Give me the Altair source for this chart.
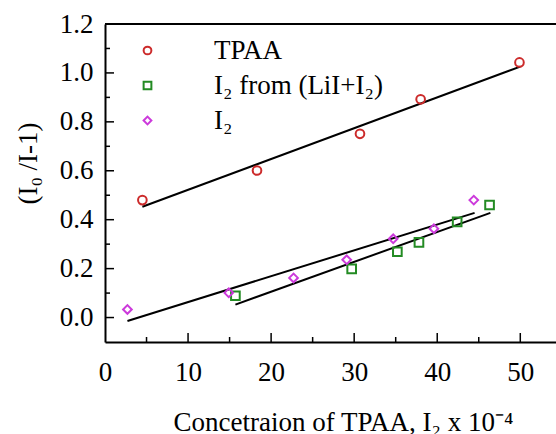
import altair as alt
import pandas as pd

# ---- data ----
series_names = ["TPAA", "I\u2082  from (LiI+I\u2082)", "I\u2082"]
series_colors = ["#CC2B2B", "#238B23", "#CC3ADB"]
series_shapes = ["circle", "square", "diamond"]

tpaa_x = [4.5, 18.3, 30.7, 38.0, 49.9]
tpaa_y = [0.480, 0.601, 0.751, 0.892, 1.043]
lil_x = [15.7, 29.7, 35.2, 37.8, 42.4, 46.3]
lil_y = [0.089, 0.199, 0.269, 0.307, 0.391, 0.460]
i2_x = [2.7, 14.9, 22.7, 29.1, 34.7, 39.6, 44.4]
i2_y = [0.033, 0.101, 0.162, 0.236, 0.322, 0.363, 0.480]

# linear fit lines (end points)
tpaa_fit_x = [4.5, 50.0]
tpaa_fit_y = [0.453, 1.026]
lil_fit_x = [15.7, 46.4]
lil_fit_y = [0.053, 0.428]
i2_fit_x = [2.7, 44.5]
i2_fit_y = [-0.014, 0.428]

x_tick_labels = [0, 10, 20, 30, 40, 50]
x_major_ticks = [10, 20, 30, 40, 50]
x_minor_ticks = [5, 15, 25, 35, 45]
y_tick_labels = [0.0, 0.2, 0.4, 0.6, 0.8, 1.0, 1.2]
y_major_ticks = [0.0, 0.2, 0.4, 0.6, 0.8, 1.0]
y_minor_ticks = [0.1, 0.3, 0.5, 0.7, 0.9, 1.1]

X_DOMAIN = [0, 54.3]
Y_DOMAIN = [-0.1, 1.2]
W, H = 451, 318
FONT = "Liberation Serif"
MAJOR_LEN, MINOR_LEN = 9, 5

pts = pd.DataFrame({
    "x": tpaa_x + lil_x + i2_x,
    "y": tpaa_y + lil_y + i2_y,
    "series": [series_names[0]] * len(tpaa_x)
    + [series_names[1]] * len(lil_x)
    + [series_names[2]] * len(i2_x),
})
fits = pd.DataFrame({
    "x": tpaa_fit_x + lil_fit_x + i2_fit_x,
    "y": tpaa_fit_y + lil_fit_y + i2_fit_y,
    "series": [series_names[0]] * 2 + [series_names[1]] * 2 + [series_names[2]] * 2,
})

xs = alt.Scale(domain=X_DOMAIN, nice=False, zero=False)
ys = alt.Scale(domain=Y_DOMAIN, nice=False, zero=False)

x_axis = alt.Axis(
    orient="bottom", values=x_tick_labels, ticks=False, tickSize=0, grid=False,
    labelFont=FONT, labelFontSize=27, labelColor="black", labelPadding=38,
    labelBaseline="alphabetic", labelFlush=False,
    domainColor="black", domainWidth=2,
    title="Concetraion of TPAA, I\u2082 x 10\u207b\u2074",
    titleFont=FONT, titleFontSize=27, titleFontWeight="normal", titleColor="black",
    titleX=238, titleY=88, titleBaseline="alphabetic", titleAlign="center",
)
y_axis = alt.Axis(
    orient="left", values=y_tick_labels, format=".1f", ticks=False, tickSize=0, grid=False,
    labelFont=FONT, labelFontSize=27, labelColor="black", labelPadding=12,
    labelFlush=False,
    domainColor="black", domainWidth=2,
    title="(I\u2080 /I-1)",
    titleFont=FONT, titleFontSize=27, titleFontWeight="normal", titleColor="black",
    titleAngle=270, titleX=-77, titleY=139, titleBaseline="middle", titleAlign="center",
)

x_main = alt.X("x:Q", scale=xs, axis=x_axis)
y_main = alt.Y("y:Q", scale=ys, axis=y_axis)

color = alt.Color(
    "series:N",
    scale=alt.Scale(domain=series_names, range=series_colors),
    legend=alt.Legend(
        title=None, orient="none", legendX=29, legendY=13,
        labelFont=FONT, labelFontSize=27, labelColor="black", labelOffset=53,
        labelLimit=0, rowPadding=7, padding=0, symbolStrokeWidth=2, symbolSize=60,
        symbolFillColor="transparent",
    ),
)
shape = alt.Shape("series:N", scale=alt.Scale(domain=series_names, range=series_shapes))

lines = alt.Chart(fits).mark_line(color="black", strokeWidth=2).encode(
    x=x_main, y=y_main, detail="series:N"
)
points = alt.Chart(pts).mark_point(filled=False, strokeWidth=2, size=75, opacity=1).encode(
    x=x_main, y=y_main, color=color, shape=shape
)
main = alt.layer(lines, points)


def x_ticks(vals, length):
    # inward ticks standing on the bottom edge of the plot (y = lower domain bound)
    df = pd.DataFrame({"v": vals})
    return alt.Chart(df).mark_tick(
        orient="vertical", color="black", thickness=1.5, size=length,
        yOffset=-length / 2, opacity=1,
    ).encode(
        x=alt.X("v:Q", scale=xs, axis=None),
        y=alt.datum(Y_DOMAIN[0], scale=ys, axis=None),
    )


def y_ticks(vals, length):
    # inward ticks standing on the left edge of the plot (x = lower domain bound)
    df = pd.DataFrame({"v": vals})
    return alt.Chart(df).mark_tick(
        orient="horizontal", color="black", thickness=1.5, size=length,
        xOffset=length / 2, opacity=1,
    ).encode(
        y=alt.Y("v:Q", scale=ys, axis=None),
        x=alt.datum(X_DOMAIN[0], scale=xs, axis=None),
    )


# top frame line across the full x domain at the top of the y domain
frame = alt.Chart(pd.DataFrame({"a": [0]})).mark_rule(color="black", strokeWidth=2).encode(
    x=alt.datum(X_DOMAIN[0], scale=xs, axis=None),
    x2=alt.datum(X_DOMAIN[1]),
    y=alt.datum(Y_DOMAIN[1], scale=ys, axis=None),
)

deco = alt.layer(
    x_ticks(x_major_ticks, MAJOR_LEN), x_ticks(x_minor_ticks, MINOR_LEN),
    y_ticks(y_major_ticks, MAJOR_LEN), y_ticks(y_minor_ticks, MINOR_LEN),
    frame,
)

chart = (
    alt.layer(main, deco)
    .resolve_scale(x="independent", y="independent")
    .properties(
        width=W, height=H,
        padding={"left": 105, "top": 24, "right": 0, "bottom": 92},
        autosize=alt.AutoSizeParams(type="none"),
        background="white",
    )
    .configure_view(stroke=None)
    .configure_axis(labelFont=FONT, titleFont=FONT)
    .configure_legend(labelFont=FONT)
)

chart.save("out.html", embed_options={"renderer": "svg", "actions": False})
